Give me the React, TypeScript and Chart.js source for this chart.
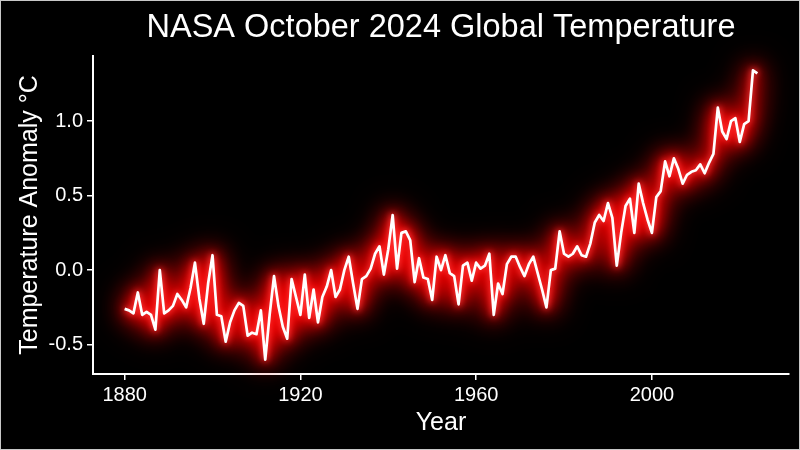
import React, { useEffect, useRef } from 'react';
import { Chart, registerables } from 'chart.js';

Chart.register(...registerables);

// ---- Data (October global temperature anomaly, °C) ----
const FIRST_YEAR = 1880;
const anom1880 = [-0.26, -0.27, -0.29, -0.15, -0.30, -0.28, -0.30, -0.40, 0.00, -0.29, -0.27, -0.24, -0.16, -0.20, -0.25, -0.12, 0.05, -0.19, -0.36, -0.09];
const anom1900 = [0.10, -0.30, -0.31, -0.48, -0.35, -0.27, -0.22, -0.24, -0.44, -0.42, -0.43, -0.27, -0.60, -0.30, -0.04, -0.24, -0.38, -0.46, -0.06, -0.18];
const anom1920 = [-0.30, -0.03, -0.32, -0.13, -0.35, -0.18, -0.11, 0.00, -0.18, -0.13, 0.00, 0.09, -0.09, -0.26, -0.06, -0.04, 0.01, 0.11, 0.16, -0.03];
const anom1940 = [0.14, 0.37, 0.01, 0.25, 0.26, 0.20, -0.08, 0.08, -0.05, -0.06, -0.20, 0.09, 0.00, 0.10, -0.02, -0.04, -0.23, 0.03, 0.05, -0.07];
const anom1960 = [0.05, 0.01, 0.03, 0.11, -0.30, -0.09, -0.16, 0.04, 0.09, 0.09, 0.02, -0.04, 0.04, 0.09, -0.02, -0.13, -0.25, 0.00, 0.01, 0.26];
const anom1980 = [0.11, 0.09, 0.11, 0.16, 0.10, 0.09, 0.18, 0.32, 0.37, 0.33, 0.45, 0.35, 0.03, 0.25, 0.43, 0.48, 0.25, 0.58, 0.45, 0.34];
const anom2000 = [0.25, 0.49, 0.53, 0.73, 0.63, 0.75, 0.68, 0.58, 0.64, 0.66, 0.67, 0.71, 0.65, 0.72, 0.78, 1.09, 0.93, 0.88, 1.00, 1.02];
const anom2020 = [0.86, 0.98, 1.00, 1.34, 1.32];

const xTickYears = [1880, 1920, 1960, 2000];
const yTickValues = [-0.5, 0.0, 0.5, 1.0];

const TITLE = 'NASA October 2024 Global Temperature';
const X_TITLE = 'Year';
const Y_TITLE = 'Temperature Anomaly °C';

const FONT = '"Liberation Sans", Arial, Helvetica, sans-serif';
const SHIFT = 3000;

export default function App() {
  const canvasRef = useRef<HTMLCanvasElement | null>(null);

  useEffect(() => {
    document.body.style.margin = '0';
    document.body.style.background = '#000';
    const canvas = canvasRef.current;
    if (!canvas) return;

    const anomalies = [...anom1880, ...anom1900, ...anom1920, ...anom1940, ...anom1960, ...anom1980, ...anom2000, ...anom2020];
    const points = anomalies.map((v, i) => ({ x: FIRST_YEAR + i, y: v }));
    const minX = FIRST_YEAR;
    const maxX = FIRST_YEAR + anomalies.length - 1;
    const padX = (maxX - minX) * 0.05;
    const minY = Math.min(...anomalies);
    const maxY = Math.max(...anomalies);
    const padY = (maxY - minY) * 0.05;

    // Glow layers: stroke drawn off-canvas, only its blurred shadow lands on the plot
    const glowPlugin = {
      id: 'glow',
      beforeDatasetDraw(chart: any, args: any) {
        const ds = chart.data.datasets[args.index];
        if (ds.glowBlur) {
          const ctx = chart.ctx;
          ctx.save();
          ctx.shadowColor = ds.glowColor;
          ctx.shadowBlur = ds.glowBlur;
          ctx.shadowOffsetX = SHIFT;
          ctx.translate(-SHIFT, 0);
        }
      },
      afterDatasetDraw(chart: any, args: any) {
        const ds = chart.data.datasets[args.index];
        if (ds.glowBlur) chart.ctx.restore();
      },
    };

    const framePlugin = {
      id: 'frame',
      beforeDraw(chart: any) {
        const ctx = chart.ctx;
        ctx.save();
        ctx.fillStyle = '#000';
        ctx.fillRect(0, 0, chart.width, chart.height);
        ctx.restore();
      },
      afterDraw(chart: any) {
        const ctx = chart.ctx;
        ctx.save();
        ctx.strokeStyle = '#c8c8c8';
        ctx.lineWidth = 1;
        ctx.strokeRect(0.5, 0.5, chart.width - 1, chart.height - 1);
        ctx.restore();
      },
    };

    const lineBase = {
      data: points,
      pointRadius: 0,
      tension: 0,
      borderJoinStyle: 'round',
      clip: false,
    };

    const chart = new Chart(canvas, {
      type: 'line',
      data: {
        datasets: [
          { ...lineBase, borderColor: '#ffffff', borderWidth: 2.7 } as any,
          { ...lineBase, borderColor: '#ff0000', borderWidth: 4, glowBlur: 6, glowColor: 'rgba(255,60,60,1)' } as any,
          { ...lineBase, borderColor: '#ff0000', borderWidth: 6, glowBlur: 14, glowColor: 'rgba(255,0,0,1)' } as any,
          { ...lineBase, borderColor: '#ff0000', borderWidth: 8, glowBlur: 24, glowColor: 'rgba(240,0,0,1)' } as any,
          { ...lineBase, borderColor: '#ff0000', borderWidth: 10, glowBlur: 34, glowColor: 'rgba(220,0,0,0.85)' } as any,
        ],
      },
      options: {
        responsive: false,
        animation: false,
        events: [],
        layout: { padding: { top: 0, right: 11, bottom: 0, left: 0 } },
        plugins: {
          legend: { display: false },
          tooltip: { enabled: false },
          title: {
            display: true,
            text: TITLE,
            color: '#ffffff',
            fullSize: false,
            font: { family: FONT, size: 32.5, weight: 'normal' },
            padding: { top: 9, bottom: 8 },
          },
        },
        scales: {
          x: {
            type: 'linear',
            min: minX - padX,
            max: maxX + padX,
            afterBuildTicks: (s: any) => {
              s.ticks = xTickYears.map((v) => ({ value: v }));
            },
            afterFit: (s: any) => {
              s.height = 76;
            },
            ticks: {
              color: '#ffffff',
              font: { family: FONT, size: 20 },
              padding: 3,
              autoSkip: false,
              maxRotation: 0,
              callback: (v: any) => String(v),
            },
            grid: {
              display: true,
              drawOnChartArea: false,
              drawTicks: true,
              tickLength: 6,
              color: '#ffffff',
              lineWidth: 1.5,
            },
            border: { display: true, color: '#ffffff', width: 2 },
            title: {
              display: true,
              text: X_TITLE,
              color: '#ffffff',
              font: { family: FONT, size: 25 },
              padding: { top: 0, bottom: 12 },
            },
          },
          y: {
            type: 'linear',
            min: minY - padY,
            max: maxY + padY,
            afterBuildTicks: (s: any) => {
              s.ticks = yTickValues.map((v) => ({ value: v }));
            },
            afterFit: (s: any) => {
              s.width = 93;
            },
            ticks: {
              color: '#ffffff',
              font: { family: FONT, size: 20 },
              padding: 4,
              callback: (v: any) => Number(v).toFixed(1),
            },
            grid: {
              display: true,
              drawOnChartArea: false,
              drawTicks: true,
              tickLength: 6,
              color: '#ffffff',
              lineWidth: 1.5,
            },
            border: { display: true, color: '#ffffff', width: 2 },
            title: {
              display: true,
              text: Y_TITLE,
              color: '#ffffff',
              font: { family: FONT, size: 25 },
              padding: { top: 15, bottom: 0 },
            },
          },
        },
      },
      plugins: [glowPlugin, framePlugin],
    } as any);

    return () => chart.destroy();
  }, []);

  return (
    <div style={{ width: 800, height: 450, background: '#000' }}>
      <canvas ref={canvasRef} width={800} height={450} style={{ display: 'block' }} />
    </div>
  );
}
